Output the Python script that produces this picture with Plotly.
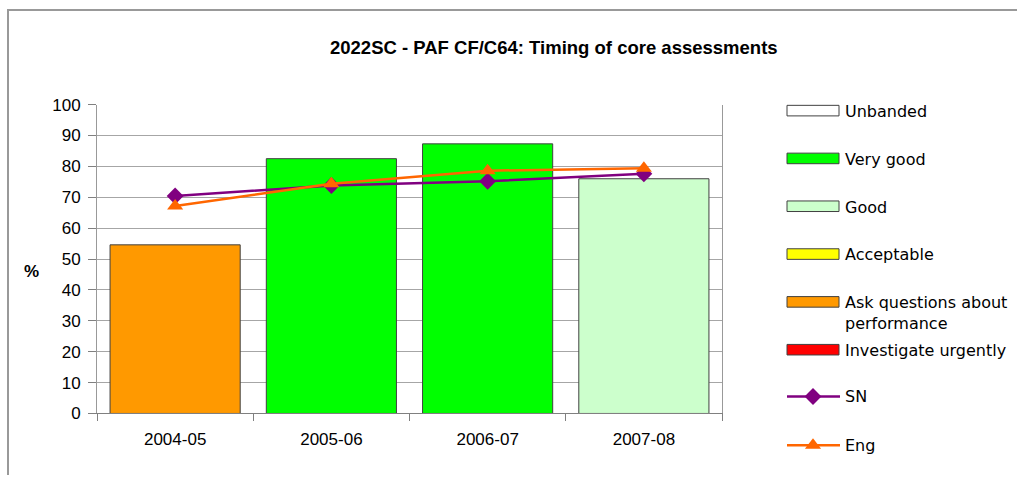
import plotly.graph_objects as go

# データ
years = ['2004-05', '2005-06', '2006-07', '2007-08']
pct = [54.6, 82.5, 87.3, 76.0]
bands = ['Ask questions about performance', 'Very good', 'Very good', 'Good']
sn = [70.4, 73.8, 75.2, 77.6]
eng = [67.2, 74.4, 78.6, 79.4]

legend_labels = ['Unbanded', 'Very good', 'Good', 'Acceptable',
                 'Ask questions about performance', 'Investigate urgently']
band_colors = ['#FFFFFF', '#00FF00', '#CCFFCC', '#FFFF00', '#FF9900', '#FF0000']
color_of = dict(zip(legend_labels, band_colors))

W, H = 1017, 485
FONT = 'Arial, Liberation Sans, sans-serif'
LFONT = 'Tahoma, DejaVu Sans, sans-serif'


# 撮影時の縦方向のずれ（上8px・縮小0.9645）を補正した縦位置
def py(y):
    return (y - 8) / 0.9645


AX_L, AX_R, AX_T, AX_B = 97, 722, py(104), py(414)

fig = go.Figure()

# 棒グラフ
fig.add_trace(go.Bar(
    x=years, y=pct,
    marker=dict(color=[color_of[b] for b in bands],
                line=dict(color='#404040', width=1)),
    showlegend=False, hoverinfo='x+y'
))

# SN / Eng 折れ線
fig.add_trace(go.Scatter(
    x=years, y=sn, mode='lines+markers', name='SN',
    line=dict(color='#800080', width=2.5),
    marker=dict(symbol='diamond', size=13, color='#800080'),
    showlegend=False, cliponaxis=False
))
fig.add_trace(go.Scatter(
    x=years, y=eng, mode='lines+markers', name='Eng',
    line=dict(color='#FF6600', width=2.5),
    marker=dict(symbol='triangle-up', size=14, color='#FF6600'),
    showlegend=False, cliponaxis=False
))

# 凡例（手描き、ピクセル座標の補助軸）
shapes = []
annotations = []
leg_y = [110, 158, 206, 254, 302, 350]
for lab, col, y in zip(legend_labels, band_colors, leg_y):
    shapes.append(dict(type='rect', xref='x2', yref='y2',
                       x0=787, x1=839, y0=py(y) - 5.5, y1=py(y) + 5.5,
                       fillcolor=col, line=dict(color='#404040', width=1)))
    text = lab.replace('about performance', 'about<br>performance')
    annotations.append(dict(xref='x2', yref='y2', x=843, y=py(y) - 11,
                            text=text, showarrow=False, xanchor='left',
                            yanchor='top', align='left',
                            font=dict(family=LFONT, size=16, color='#000')))

for lab, col, sym, y in [('SN', '#800080', 'diamond', 397),
                         ('Eng', '#FF6600', 'triangle-up', 446)]:
    shapes.append(dict(type='line', xref='x2', yref='y2',
                       x0=787, x1=840, y0=py(y), y1=py(y),
                       line=dict(color=col, width=2.5)))
    fig.add_trace(go.Scatter(
        x=[813], y=[py(y)], xaxis='x2', yaxis='y2', mode='markers',
        marker=dict(symbol=sym, size=13 if sym == 'diamond' else 14, color=col),
        showlegend=False, hoverinfo='skip', cliponaxis=False
    ))
    annotations.append(dict(xref='x2', yref='y2', x=843, y=py(y),
                            text=lab, showarrow=False, xanchor='left',
                            yanchor='middle',
                            font=dict(family=LFONT, size=16, color='#000')))

# 外枠
shapes.append(dict(type='line', xref='x2', yref='y2', x0=8, x1=8, y0=0, y1=H + 5,
                   line=dict(color='#999999', width=2)))
shapes.append(dict(type='line', xref='x2', yref='y2', x0=7, x1=W + 5, y0=1, y1=1,
                   line=dict(color='#999999', width=2)))

# タイトルと軸ラベル
annotations.append(dict(xref='x2', yref='y2', x=554, y=py(47),
                        text='<b>2022SC - PAF CF/C64: Timing of core assessments</b>',
                        showarrow=False, xanchor='center', yanchor='middle',
                        font=dict(family=FONT, size=18.5, color='#000')))
annotations.append(dict(xref='x2', yref='y2', x=31, y=py(271), text='<b>%</b>',
                        showarrow=False, xanchor='center', yanchor='middle',
                        font=dict(family=FONT, size=17, color='#000')))

fig.update_layout(
    width=W, height=H,
    margin=dict(l=0, r=0, t=0, b=0),
    paper_bgcolor='white', plot_bgcolor='rgba(0,0,0,0)',
    bargap=0.167,
    font=dict(family=FONT, size=17, color='#000'),
    xaxis=dict(domain=[AX_L / W, AX_R / W], type='category',
               showline=True, linecolor='#808080', linewidth=1,
               ticks='outside', tickson='boundaries', ticklen=7,
               tickcolor='#808080', showgrid=False, ticklabelstandoff=10,
               tickfont=dict(size=17)),
    yaxis=dict(domain=[(H - AX_B) / H, (H - AX_T) / H], range=[0, 100],
               dtick=10, showline=True, mirror=True, linecolor='#999999',
               linewidth=1, ticks='outside', ticklen=8, tickcolor='#808080',
               gridcolor='#A6A6A6', gridwidth=1, zeroline=False,
               ticklabelstandoff=4, tickfont=dict(size=17)),
    xaxis2=dict(domain=[0, 1], range=[0, W], visible=False, anchor='y2'),
    yaxis2=dict(domain=[0, 1], range=[H, 0], visible=False, anchor='x2'),
    shapes=shapes,
    annotations=annotations,
)

# ページ余白を消して図を左上に固定
fix_js = """
var st = document.createElement('style');
st.textContent = 'html,body{margin:0;padding:0;overflow:hidden;}';
document.head.appendChild(st);
var gd = document.getElementsByClassName('plotly-graph-div')[0];
gd.style.position = 'fixed';
gd.style.top = '0px';
gd.style.left = '0px';
"""

fig.write_html('out.html', config={'displayModeBar': False},
               post_script=fix_js)
